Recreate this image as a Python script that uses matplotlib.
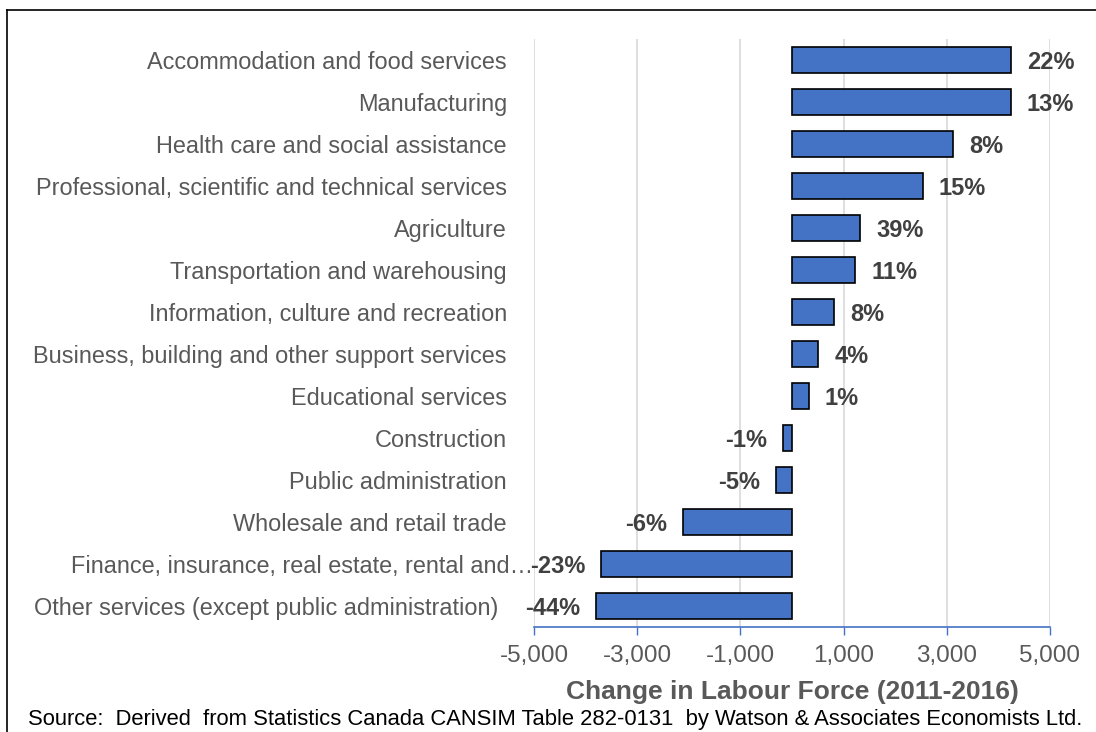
import matplotlib.pyplot as plt
from matplotlib.lines import Line2D
from matplotlib.transforms import ScaledTranslation

plt.rcParams['font.family'] = ['Liberation Sans', 'DejaVu Sans']

industries = [
    "Accommodation and food services",
    "Manufacturing",
    "Health care and social assistance",
    "Professional, scientific and technical services",
    "Agriculture",
    "Transportation and warehousing",
    "Information, culture and recreation",
    "Business, building and other support services",
    "Educational services",
    "Construction",
    "Public administration",
    "Wholesale and retail trade",
    "Finance, insurance, real estate, rental and\u2026",
    "Other services (except public administration)",
]
change = [4240, 4240, 3125, 2535, 1320, 1225, 820, 510, 325,
          -180, -305, -2105, -3695, -3790]
pct_change = ["22%", "13%", "8%", "15%", "39%", "11%", "8%", "4%", "1%",
              "-1%", "-5%", "-6%", "-23%", "-44%"]
xticks = [-5000, -3000, -1000, 1000, 3000, 5000]

fig = plt.figure(figsize=(10.96, 7.32), dpi=100)
ax = fig.add_axes([534 / 1096, 1 - 627 / 732, 516 / 1096, 588 / 732])

ypos = list(range(len(industries)))
bars = ax.barh(ypos, change, height=0.62, color='#4472C4',
               edgecolor='black', linewidth=1.2, zorder=3)
lbls = ax.bar_label(bars, labels=pct_change, padding=11.5, fontsize=17,
                    fontweight='bold', color='#404040')
for t in lbls:
    t.set_va('center_baseline')

ax.set_xlim(-5000, 5000)
ax.set_ylim(len(industries) - 0.5, -0.5)
ax.set_xticks(xticks)
ax.set_xticklabels([f"{v:,}" for v in xticks])
ax.set_yticks(ypos)
ax.set_yticklabels(industries, va='center_baseline')
ax.tick_params(axis='y', length=0, pad=19.5, labelsize=16.9, labelcolor='#595959')
ax.tick_params(axis='x', length=6, width=1, color='#4472C4', pad=7,
               labelsize=17.5, labelcolor='#595959')

# the two long category names sit a little off the common right edge
ylabels = ax.get_yticklabels()
for idx, dx in [(12, 26), (13, -9)]:
    ylabels[idx].set_transform(ylabels[idx].get_transform()
                               + ScaledTranslation(dx / 100, 0, fig.dpi_scale_trans))

ax.grid(axis='x', color='#D9D9D9', linewidth=1.2, zorder=0)
for side in ['top', 'right', 'left']:
    ax.spines[side].set_visible(False)
ax.spines['bottom'].set_color('#4472C4')
ax.spines['bottom'].set_linewidth(1.2)

ax.set_xlabel("Change in Labour Force (2011-2016)", fontsize=19,
              fontweight='bold', color='#595959', labelpad=9.5)

fig.text(28 / 1096, 1 - 720 / 732,
         "Source:  Derived  from Statistics Canada CANSIM Table 282-0131  by Watson & Associates Economists Ltd.",
         fontsize=15.8, color='black', va='center', ha='left')

# outer frame (top and left edges)
fig.add_artist(Line2D([7 / 1096, 1], [1 - 10 / 732, 1 - 10 / 732],
                      transform=fig.transFigure, color='black', linewidth=1.2))
fig.add_artist(Line2D([7 / 1096, 7 / 1096], [0, 1 - 10 / 732],
                      transform=fig.transFigure, color='black', linewidth=1.2))

fig.savefig("out.png", dpi=100)
